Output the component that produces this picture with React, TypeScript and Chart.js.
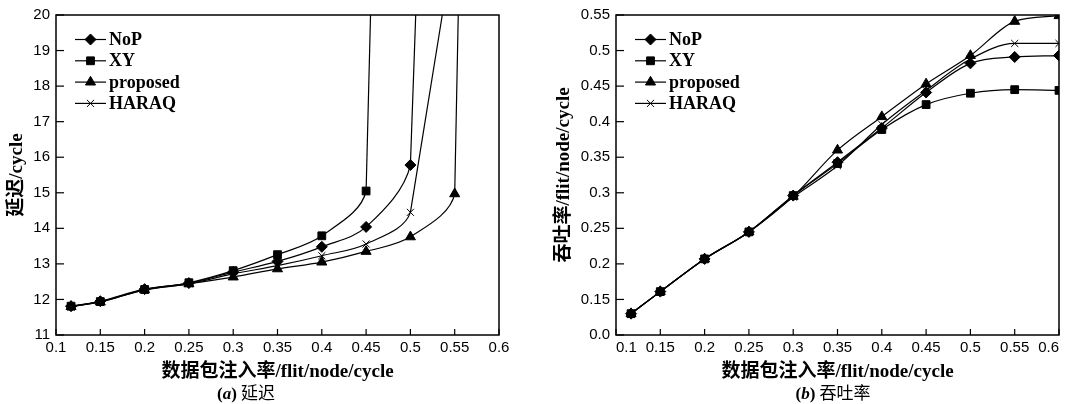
import React, { useEffect, useRef } from 'react';
import { Chart, registerables } from 'chart.js';
import { drawPoint } from 'chart.js/helpers';

Chart.register(...registerables);

// ---------- data ----------
const seriesNames = ['NoP', 'XY', 'proposed', 'HARAQ'];
const seriesMarkers = ['rectRot', 'rect', 'triangle', 'crossRot'];
const markerRadius = [5.5, 5.5, 5.8, 5];

const xTickLabels = ['0.1', '0.15', '0.2', '0.25', '0.3', '0.35', '0.4', '0.45', '0.5', '0.55', '0.6'];
const latencyTickLabels = ['11', '12', '13', '14', '15', '16', '17', '18', '19', '20'];
const throughputTickLabels = ['0.0', '0.15', '0.2', '0.25', '0.3', '0.35', '0.4', '0.45', '0.5', '0.55'];

// (a) latency
const latencyX = [0.117, 0.15, 0.2, 0.25, 0.3, 0.35, 0.4, 0.45, 0.5, 0.55];
const latencyNoP = [11.81, 11.95, 12.29, 12.46, 12.77, 13.07, 13.48, 14.04, 15.78];
const latencyXY = [11.81, 11.94, 12.28, 12.47, 12.81, 13.26, 13.79, 15.05];
const latencyProposed = [11.8, 11.93, 12.27, 12.44, 12.63, 12.86, 13.05, 13.35, 13.76, 14.97];
const latencyHARAQ = [11.8, 11.93, 12.27, 12.44, 12.72, 12.95, 13.23, 13.56, 14.45];
// injection rate at which each latency curve leaves the top of the plot (latency 20)
const latencyExitX = [0.506, 0.455, 0.554, 0.536];
const latencyExitY = 20;

// (b) throughput
const throughputX = [0.117, 0.15, 0.2, 0.25, 0.3, 0.35, 0.4, 0.45, 0.5, 0.55, 0.6];
const throughputNoP = [0.13, 0.161, 0.207, 0.245, 0.296, 0.343, 0.391, 0.441, 0.482, 0.491, 0.493];
const throughputXY = [0.13, 0.161, 0.207, 0.245, 0.296, 0.341, 0.389, 0.424, 0.44, 0.445, 0.444];
const throughputProposed = [0.13, 0.161, 0.207, 0.245, 0.295, 0.36, 0.407, 0.453, 0.493, 0.541, 0.549];
const throughputHARAQ = [0.13, 0.161, 0.207, 0.245, 0.294, 0.338, 0.396, 0.444, 0.488, 0.51, 0.51];

// ---------- styles ----------
const TICK_FONT = { family: "'Liberation Sans', Arial, sans-serif", size: 15 };
const TITLE_FONT = { family: "'Liberation Serif', 'Noto Sans CJK SC', serif", size: 19, weight: 'bold' as const };
const LEGEND_FONT = "bold 18px 'Liberation Serif', 'Times New Roman', serif";
const SERIES_COUNT = seriesNames.length;

const framePlugin = {
  id: 'frameTicks',
  afterDatasetsDraw(chart: any) {
    const { ctx, chartArea } = chart;
    const { left, right, top, bottom } = chartArea;
    ctx.save();
    ctx.strokeStyle = '#000';
    ctx.lineWidth = 1.5;
    ctx.strokeRect(left, top, right - left, bottom - top);
    ctx.lineWidth = 1.2;
    const xs = chart.scales.x;
    xs.ticks.forEach((t: any) => {
      const px = xs.getPixelForValue(t.value);
      ctx.beginPath();
      ctx.moveTo(px, bottom);
      ctx.lineTo(px, bottom - 6);
      ctx.stroke();
    });
    const ys = chart.scales.y;
    ys.ticks.forEach((t: any) => {
      const py = ys.getPixelForValue(t.value);
      ctx.beginPath();
      ctx.moveTo(left, py);
      ctx.lineTo(left + 8, py);
      ctx.stroke();
    });
    ctx.restore();
  },
};

const legendPlugin = {
  id: 'insideLegend',
  afterDatasetsDraw(chart: any) {
    const { ctx, chartArea } = chart;
    ctx.save();
    chart.data.datasets.slice(0, SERIES_COUNT).forEach((ds: any, i: number) => {
      const y = chartArea.top + 24.5 + i * 21.3;
      const x0 = chartArea.left + 19;
      const x1 = chartArea.left + 50;
      ctx.strokeStyle = '#000';
      ctx.fillStyle = '#000';
      ctx.lineWidth = 1.2;
      ctx.beginPath();
      ctx.moveTo(x0, y);
      ctx.lineTo(x1, y);
      ctx.stroke();
      ctx.lineWidth = 1;
      drawPoint(ctx, { pointStyle: seriesMarkers[i], radius: markerRadius[i], rotation: 0, borderWidth: 1 } as any, (x0 + x1) / 2, y);
      ctx.font = LEGEND_FONT;
      ctx.textAlign = 'left';
      ctx.textBaseline = 'middle';
      ctx.fillStyle = '#000';
      ctx.fillText(ds.label, x1 + 3, y + 1);
    });
    ctx.restore();
  },
};

function makeDataset(i: number, xs: number[], ys: number[], mode: 'default' | 'monotone', exit?: { x: number; y: number }) {
  const pts = ys.map((v, k) => ({ x: xs[k], y: v }));
  // the exit point shapes the smooth approach to the last marker; that last segment itself is drawn straight separately
  if (exit) pts.push(exit);
  const n = ys.length;
  return {
    label: seriesNames[i],
    data: pts,
    borderColor: '#000',
    backgroundColor: '#000',
    borderWidth: 1.2,
    pointStyle: seriesMarkers[i],
    pointRadius: (c: any) => (c.dataIndex < n ? markerRadius[i] : 0),
    pointBackgroundColor: '#000',
    pointBorderColor: '#000',
    pointBorderWidth: 1,
    cubicInterpolationMode: mode,
    tension: 0.35,
    fill: false,
    segment: exit
      ? { borderColor: (c: any) => (c.p1DataIndex >= n ? 'rgba(0,0,0,0)' : undefined) }
      : undefined,
  };
}

function makeExitDataset(i: number, xs: number[], ys: number[], exit: { x: number; y: number }) {
  const k = ys.length - 1;
  return {
    label: seriesNames[i] + ' (saturation)',
    data: [{ x: xs[k], y: ys[k] }, exit],
    borderColor: '#000',
    borderWidth: 1.2,
    pointRadius: 0,
    tension: 0,
    fill: false,
  };
}

function makeOptions(p: {
  yMin: number; yMax: number; yStep: number; yLabels: string[]; yTitle: string;
  yWidth: number; yTitlePad: number; padRight: number; xAlign: 'center' | 'inner';
}) {
  return {
    responsive: false,
    animation: false as const,
    layout: { padding: { top: 10, right: p.padRight, left: 0, bottom: 0 } },
    plugins: { legend: { display: false }, tooltip: { enabled: false } },
    scales: {
      x: {
        type: 'linear' as const,
        min: 0.1,
        max: 0.6,
        grid: { display: false, drawTicks: false },
        border: { display: false },
        ticks: {
          stepSize: 0.05,
          color: '#000',
          font: TICK_FONT,
          padding: 4,
          maxRotation: 0,
          autoSkip: false,
          align: p.xAlign,
          callback: (_v: any, idx: number) => xTickLabels[idx],
        },
        title: {
          display: true,
          text: '数据包注入率/flit/node/cycle',
          color: '#000',
          font: TITLE_FONT,
          padding: { top: 2, bottom: 2 },
        },
        afterFit: (s: any) => { s.height = 50; },
      },
      y: {
        type: 'linear' as const,
        min: p.yMin,
        max: p.yMax,
        grid: { display: false, drawTicks: false },
        border: { display: false },
        ticks: {
          stepSize: p.yStep,
          color: '#000',
          font: TICK_FONT,
          padding: 6,
          autoSkip: false,
          callback: (_v: any, idx: number) => p.yLabels[idx],
        },
        title: {
          display: true,
          text: p.yTitle,
          color: '#000',
          font: TITLE_FONT,
          padding: { top: p.yTitlePad, bottom: 0 },
        },
        afterFit: (s: any) => { s.width = p.yWidth; },
      },
    },
  };
}

export default function App() {
  const leftRef = useRef<HTMLCanvasElement>(null);
  const rightRef = useRef<HTMLCanvasElement>(null);

  useEffect(() => {
    const latencySeries = [latencyNoP, latencyXY, latencyProposed, latencyHARAQ];
    const exits = latencyExitX.map((x) => ({ x, y: latencyExitY }));
    const left = new Chart(leftRef.current!, {
      type: 'line',
      data: {
        datasets: [
          ...latencySeries.map((s, i) => makeDataset(i, latencyX, s, 'default', exits[i])),
          ...latencySeries.map((s, i) => makeExitDataset(i, latencyX, s, exits[i])),
        ] as any,
      },
      options: makeOptions({
        yMin: 11, yMax: 20, yStep: 1, yLabels: latencyTickLabels, yTitle: '延迟/cycle',
        yWidth: 56, yTitlePad: 6, padRight: 34, xAlign: 'center',
      }) as any,
      plugins: [framePlugin, legendPlugin],
    });

    const throughputSeries = [throughputNoP, throughputXY, throughputProposed, throughputHARAQ];
    const right = new Chart(rightRef.current!, {
      type: 'line',
      data: {
        datasets: throughputSeries.map((s, i) => makeDataset(i, throughputX, s, 'monotone')) as any,
      },
      options: makeOptions({
        yMin: 0.1, yMax: 0.55, yStep: 0.05, yLabels: throughputTickLabels, yTitle: '吞吐率/flit/node/cycle',
        yWidth: 71, yTitlePad: 8, padRight: 7, xAlign: 'inner',
      }) as any,
      plugins: [framePlugin, legendPlugin],
    });

    return () => {
      left.destroy();
      right.destroy();
    };
  }, []);

  const captionStyle: React.CSSProperties = {
    position: 'absolute',
    top: 382,
    fontSize: 17,
    lineHeight: '20px',
    textAlign: 'center',
    color: '#000',
    whiteSpace: 'nowrap',
  };
  const latin: React.CSSProperties = { fontFamily: "'Liberation Serif', serif", fontWeight: 'bold' };
  const cjk: React.CSSProperties = { fontFamily: "'Noto Sans CJK SC', sans-serif" };

  return (
    <div style={{ position: 'relative', width: 1066, height: 404, background: '#fff', overflow: 'hidden' }}>
      <style>{'body{margin:0;background:#fff;}'}</style>
      <canvas ref={leftRef} width={533} height={385} style={{ position: 'absolute', left: 0, top: 0 }} />
      <canvas ref={rightRef} width={521} height={385} style={{ position: 'absolute', left: 545, top: 0 }} />
      <div style={{ ...captionStyle, left: 146, width: 200 }}>
        <span style={latin}>(<i>a</i>)</span> <span style={cjk}>延迟</span>
      </div>
      <div style={{ ...captionStyle, left: 733, width: 200 }}>
        <span style={latin}>(<i>b</i>)</span> <span style={cjk}>吞吐率</span>
      </div>
    </div>
  );
}
